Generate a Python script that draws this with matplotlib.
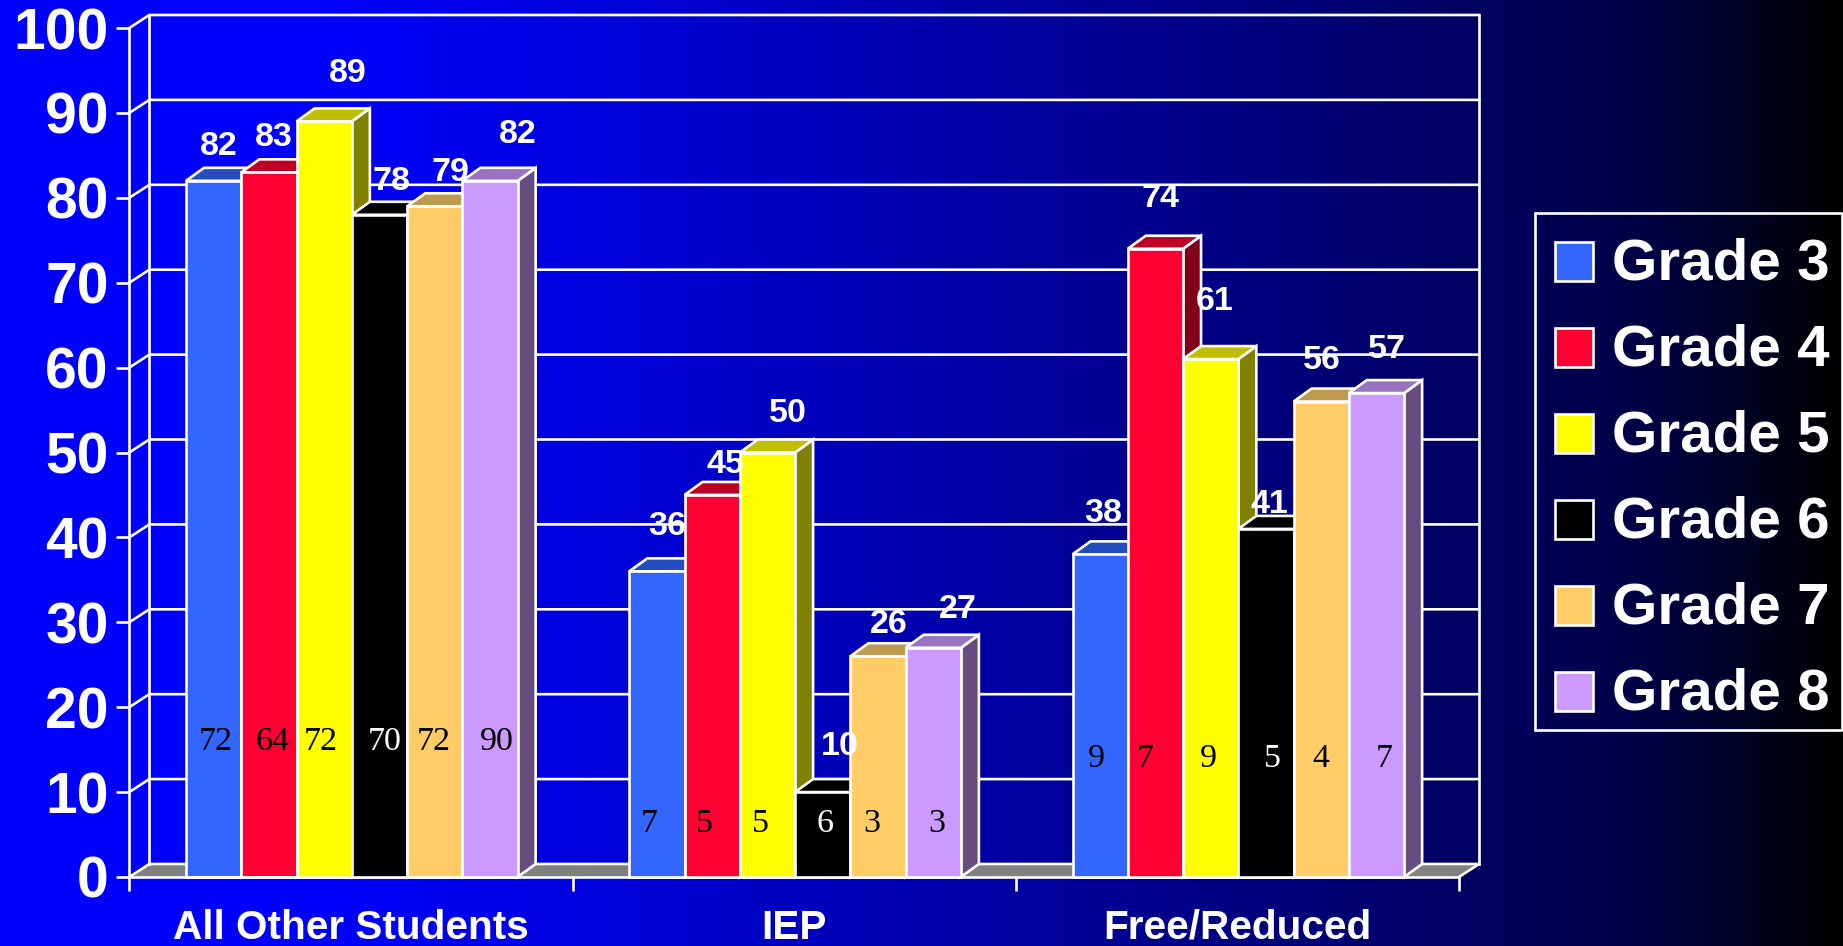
import matplotlib

matplotlib.use("Agg")
import matplotlib.pyplot as plt
import numpy as np
from matplotlib.colors import to_rgb
from matplotlib.legend_handler import HandlerPatch
from matplotlib.patches import Patch, Rectangle

plt.rcParams["font.family"] = ["Liberation Sans", "DejaVu Sans"]

groups = ["All Other Students", "IEP", "Free/Reduced"]
grades = ["Grade 3", "Grade 4", "Grade 5", "Grade 6", "Grade 7", "Grade 8"]
colors = ["#3366FF", "#FF0033", "#FFFF00", "#000000", "#FFCC66", "#CC99FF"]

# rows are groups, columns are grades
scores = [
    [82, 83, 89, 78, 79, 82],
    [36, 45, 50, 10, 26, 27],
    [38, 74, 61, 41, 56, 57],
]
counts = [
    [72, 64, 72, 70, 72, 90],
    [7, 5, 5, 6, 3, 3],
    [9, 7, 9, 5, 4, 7],
]

W, H = 1843, 946
X0, X1, Y0, Y100 = 129.3, 1459.0, 877.0, 28.0
BAR_W = 0.1247
BAR_START = 0.128
PX_X = 3 / (X1 - X0)  # data units per pixel
PX_Y = 100 / (Y0 - Y100)
BAR_DX, BAR_DY = 18 * PX_X, 13 * PX_Y
WALL_DX, WALL_DY = 20 * PX_X, 13 * PX_Y
LW = 1.9

# label nudges in pixels from the bar centre / bar top, the source chart is hand placed
score_nudge = [
    [(5, 34), (4.5, 35), (24, 48), (12, 33), (15.5, 34), (28, 46)],
    [(10, 45), (13, 30), (20.5, 39.5), (17, 46), (11, 32), (24.5, 38.5)],
    [(3, 41), (5, 50), (4.5, 57.5), (3, 24), (1, 41.5), (10.5, 44)],
]
count_nudge = [
    [2, 3.5, -3, 5, -1.5, 7],
    [-8, -8, -7, 2, -6, 3.5],
    [-4, -10, -2, 6, 0, 8],
]
count_y = [15.9, 6.3, 13.9]


def lower_swatch(legend, orig_handle, xdescent, ydescent, width, height, fontsize):
    return Rectangle((-xdescent, -ydescent - 2.0), width, height)


fig = plt.figure(figsize=(W / 100, H / 100), dpi=100)

bg = fig.add_axes([0, 0, 1, 1], zorder=0)
bg.axis("off")
ramp = np.interp(np.linspace(0, 1, W), [0, 0.17, 0.33, 0.6, 0.8, 0.9, 1], [1, 1, 0.86, 0.58, 0.38, 0.26, 0])
bg.imshow(np.dstack([0 * ramp, 0 * ramp, ramp]).repeat(2, axis=0), aspect="auto")

ax = fig.add_axes([X0 / W, 1 - Y0 / H, (X1 - X0) / W, (Y0 - Y100) / H], zorder=1)
ax.patch.set_visible(False)
ax.set_xlim(0, 3)
ax.set_ylim(0, 100)
for side in ("top", "right"):
    ax.spines[side].set_visible(False)
for side in ("left", "bottom"):
    ax.spines[side].set_color("white")
    ax.spines[side].set_linewidth(LW)

# floor and back wall
ax.fill([0, 3, 3 + WALL_DX, WALL_DX], [0, 0, WALL_DY, WALL_DY], color="#808080", lw=0, zorder=1, clip_on=False)
ticks = np.arange(0, 101, 10)
for v in ticks:
    ax.plot([0, WALL_DX, 3 + WALL_DX], [v, v + WALL_DY, v + WALL_DY], color="white", lw=LW, zorder=1.5, clip_on=False)
ax.plot([WALL_DX, WALL_DX], [WALL_DY, 100 + WALL_DY], color="white", lw=LW, zorder=1.5, clip_on=False)
ax.plot([3 + WALL_DX, 3 + WALL_DX], [WALL_DY, 100 + WALL_DY], color="white", lw=LW, zorder=1.5, clip_on=False)
ax.plot([3, 3 + WALL_DX], [0, WALL_DY], color="white", lw=LW, zorder=1.5, clip_on=False)

# bars, left to right so each one hides the side of the one before
z = 2.0
for g, row in enumerate(scores):
    for s, val in enumerate(row):
        left = g + BAR_START + s * BAR_W
        right = left + BAR_W
        base = np.array(to_rgb(colors[s]))
        ax.fill([right, right + BAR_DX, right + BAR_DX, right], [0, BAR_DY, val + BAR_DY, val],
                facecolor=base * 0.5, edgecolor="white", lw=LW, zorder=z, clip_on=False)
        ax.fill([left, left + BAR_DX, right + BAR_DX, right], [val, val + BAR_DY, val + BAR_DY, val],
                facecolor=base * 0.75, edgecolor="white", lw=LW, zorder=z, clip_on=False)
        ax.bar(left, val, BAR_W, align="edge", color=colors[s], edgecolor="white", lw=LW, zorder=z + 0.1, clip_on=False)
        z += 0.2

        center = left + BAR_W / 2
        nx, ny = score_nudge[g][s]
        ax.annotate(str(val), (center, val), xytext=(nx * 0.72, ny * 0.72), textcoords="offset points",
                    ha="center", va="center", color="white", fontsize=24.5, fontweight="bold", zorder=50,
                    annotation_clip=False)
        ax.annotate(str(counts[g][s]), (center, count_y[g]), xytext=(count_nudge[g][s] * 0.72, 0),
                    textcoords="offset points", ha="center", va="center", fontsize=24.5,
                    family=["Liberation Serif", "DejaVu Serif"],
                    color="white" if colors[s] == "#000000" else "black", zorder=50)

ax.set_yticks(ticks)
ax.set_yticklabels([str(v) for v in ticks])
ax.tick_params(axis="y", length=9.4, width=LW, color="white", pad=5.5, labelcolor="white", labelsize=41)
for lab in ax.get_yticklabels():
    lab.set_fontweight("bold")

ax.set_xticks([0, 1, 2, 3])
ax.set_xticklabels([])
ax.set_xticks([0.5, 1.5, 2.5], groups, minor=True)
ax.tick_params(axis="x", which="major", length=10, width=LW, color="white")
ax.tick_params(axis="x", which="minor", length=0, pad=23, labelcolor="white", labelsize=29.2)
for lab in ax.get_xticklabels(minor=True):
    lab.set_fontweight("bold")

# frame is separate because the source legend has uneven inner margins
fig.add_artist(Rectangle((1535 / W, 1 - 730 / H), 307 / W, 517 / H, transform=fig.transFigure,
                         facecolor="none", edgecolor="white", lw=LW, zorder=59))
handles = [Patch(facecolor=c, edgecolor="white", lw=LW) for c in colors]
leg = fig.legend(handles, grades, loc="upper left", bbox_to_anchor=(1555 / W, 1 - 237 / H), bbox_transform=fig.transFigure,
                 prop={"family": "Liberation Sans", "weight": "bold", "size": 42}, labelcolor="white",
                 frameon=False, handlelength=0.65, handleheight=0.65, handletextpad=0.33, labelspacing=0.55,
                 borderpad=0, borderaxespad=0, handler_map={Patch: HandlerPatch(patch_func=lower_swatch)})
leg.set_zorder(60)

fig.savefig("out.png", dpi=100)
plt.close(fig)
